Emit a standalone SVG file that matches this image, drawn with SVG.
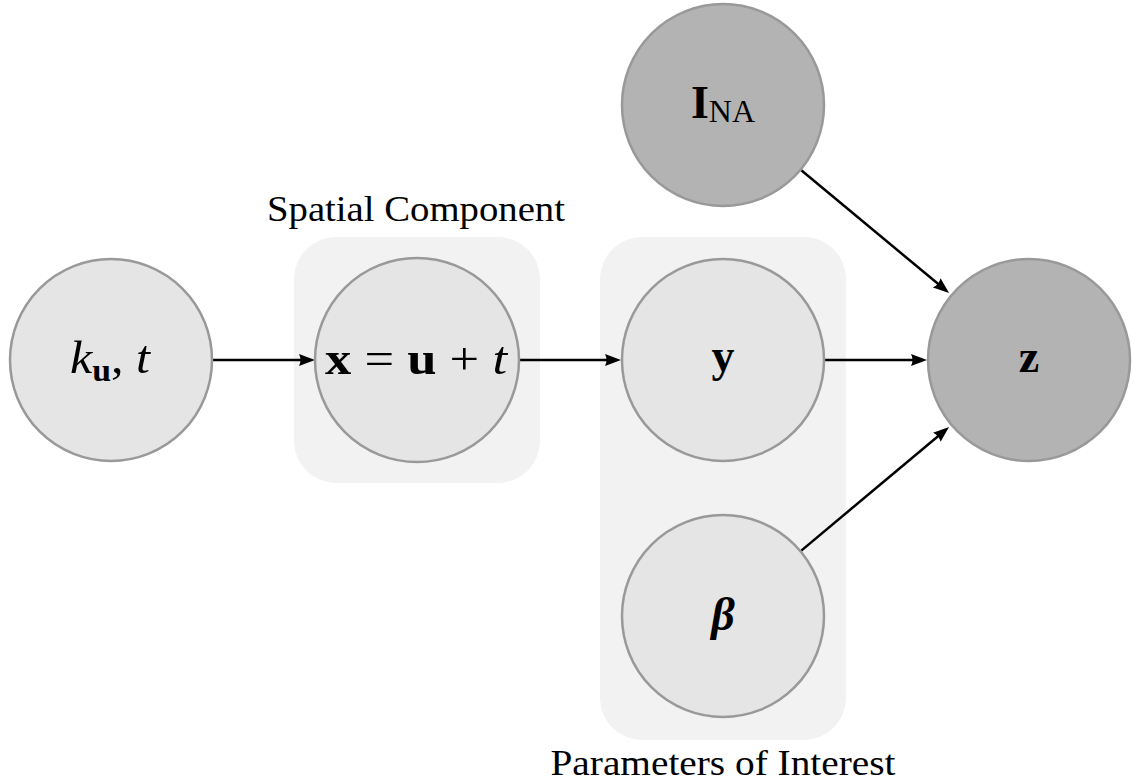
<svg xmlns="http://www.w3.org/2000/svg" width="1135" height="782" viewBox="0 0 1135 782">
<style>
.plate{fill:#f2f2f2;stroke:none}
.lt{fill:#e5e5e5;stroke:#999;stroke-width:2.5}
.dk{fill:#b3b3b3;stroke:#999;stroke-width:2.5}
.lab{font-family:"Liberation Serif","DejaVu Serif",serif;font-size:46px;fill:#000;text-anchor:middle}
.cap{font-family:"Liberation Serif","DejaVu Serif",serif;font-size:35px;fill:#000;text-anchor:middle}
.edge{stroke:#000;stroke-width:2.5;fill:none;marker-end:url(#ah)}
</style>
<defs>
<marker id="ah" markerUnits="userSpaceOnUse" markerWidth="17" markerHeight="13" refX="11" refY="6.5" orient="auto">
<path d="M0,0.5 L16,6.5 L0,12.5 Q3,6.5 0,0.5 Z" fill="#000"/>
</marker>
</defs>
<rect width="1135" height="782" fill="#fff"/>
<g id="plate-spatial">
<rect class="plate" x="294" y="237" width="246" height="246" rx="42"/>
<text class="cap" x="416" y="221" textLength="298" lengthAdjust="spacingAndGlyphs">Spatial Component</text>
</g>
<g id="plate-params">
<rect class="plate" x="600" y="237" width="246" height="503" rx="42"/>
<text class="cap" x="723" y="775" textLength="345" lengthAdjust="spacingAndGlyphs">Parameters of Interest</text>
</g>
<g id="connectors">
<line class="edge" x1="212" y1="360" x2="310" y2="360"/>
<line class="edge" x1="519" y1="360" x2="616" y2="360"/>
<line class="edge" x1="825" y1="360" x2="922" y2="360"/>
<line class="edge" x1="801.3" y1="170.3" x2="945.2" y2="289.8"/>
<line class="edge" x1="801.3" y1="550.6" x2="945.2" y2="430.2"/>
</g>
<g id="node-ku-t">
<circle class="lt" cx="111" cy="360" r="101"/>
<text class="lab" x="110" y="373" textLength="80" lengthAdjust="spacingAndGlyphs"><tspan font-style="italic">k</tspan><tspan font-weight="bold" font-size="31" dy="8">u</tspan><tspan dy="-8">, </tspan><tspan font-style="italic">t</tspan></text>
</g>
<g id="node-x">
<circle class="lt" cx="417" cy="360" r="102"/>
<text class="lab" x="416" y="374" textLength="182" lengthAdjust="spacingAndGlyphs"><tspan font-weight="bold">x</tspan> = <tspan font-weight="bold">u</tspan> + <tspan font-style="italic">t</tspan></text>
</g>
<g id="node-y">
<circle class="lt" cx="723" cy="360" r="101"/>
<text class="lab" x="723" y="371" font-weight="bold">y</text>
</g>
<g id="node-beta">
<circle class="lt" cx="723" cy="616" r="101"/>
<text class="lab" x="723" y="630" font-weight="bold" font-style="italic">β</text>
</g>
<g id="node-INA">
<circle class="dk" cx="723" cy="105" r="101"/>
<text class="lab" x="723" y="118"><tspan font-weight="bold">I</tspan><tspan font-size="32" dy="4">NA</tspan></text>
</g>
<g id="node-z">
<circle class="dk" cx="1029" cy="360" r="101"/>
<text class="lab" x="1029" y="372" font-weight="bold">z</text>
</g>
</svg>
